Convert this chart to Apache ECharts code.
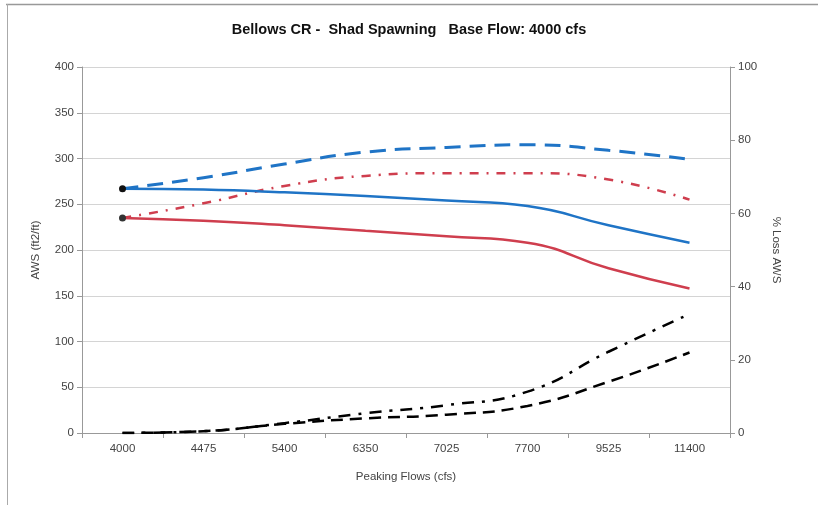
<!DOCTYPE html>
<html><head><meta charset="utf-8">
<script src="https://cdn.jsdelivr.net/npm/echarts@6/dist/echarts.min.js"></script>
<style>html,body{margin:0;padding:0;background:#fff}#c{width:818px;height:505px}</style>
</head><body><div id="c"></div>
<script>
const categories = ['4000','4475','5400','6350','7025','7700','9525','11400'];
const awsBlue = [267, 266, 263, 259, 254, 248, 227, 208];
const awsRed = [235, 232, 227, 221, 215, 208, 180, 158];
const awsBlueDash = [267, 279, 294, 307, 312, 315, 309, 299];
const awsRedDashDot = [235, 251, 270, 281, 284, 284, 277, 255];
const lossDashDot = [0, 0.5, 2.7, 5.4, 7.6, 11.3, 22.2, 32.5];
const lossDash = [0, 0.5, 2.5, 4.0, 5.0, 7.4, 14, 22];

const chart = echarts.init(document.getElementById('c'));
const lbl = {color:'#444', fontSize:11.5, fontFamily:'Liberation Sans, Arial, sans-serif'};
const firstMarker = (arr, color) => arr.map((v,i)=> i===0 ? {value:v, symbol:'circle', symbolSize:7, itemStyle:{color:color}} : {value:v, symbol:'none'});
chart.setOption({
  animation:false,
  backgroundColor:'#fff',
  graphic:[
    {type:'line', shape:{x1:6,y1:4.5,x2:818,y2:4.5}, style:{stroke:'#999', lineWidth:1.5}},
    {type:'line', shape:{x1:7.5,y1:4,x2:7.5,y2:505}, style:{stroke:'#aaa', lineWidth:1}}
  ],
  title:{text:'Bellows CR -  Shad Spawning   Base Flow: 4000 cfs', left:'center', top:17,
    textStyle:{fontSize:14.5, fontWeight:'bold', color:'#111', fontFamily:'Liberation Sans, Arial, sans-serif'}},
  grid:{left:82, right:88, top:67, bottom:72},
  xAxis:{type:'category', data:categories, boundaryGap:true,
    name:'Peaking Flows (cfs)', nameLocation:'middle', nameGap:38, nameTextStyle:{...lbl},
    axisLine:{lineStyle:{color:'#999'}}, axisTick:{show:true, alignWithLabel:false, lineStyle:{color:'#999'}},
    axisLabel:{...lbl, margin:10}},
  yAxis:[
    {type:'value', min:0, max:400, interval:50, name:'AWS (ft2/ft)', nameLocation:'middle', nameGap:40,
      nameTextStyle:{...lbl}, axisLine:{show:true, lineStyle:{color:'#999'}}, axisTick:{show:true, lineStyle:{color:'#999'}},
      axisLabel:{...lbl, margin:8}, splitLine:{lineStyle:{color:'#d4d4d4'}}},
    {type:'value', min:0, max:100, interval:20, name:'% Loss AWS', nameLocation:'middle', nameGap:40, nameRotate:-90,
      nameTextStyle:{...lbl}, axisLine:{show:true, lineStyle:{color:'#999'}}, axisTick:{show:true, lineStyle:{color:'#999'}},
      axisLabel:{...lbl, margin:8}, splitLine:{show:false}}
  ],
  series:[
    {type:'line', name:'Blue dash', data:awsBlueDash, yAxisIndex:0, smooth:0.5, symbol:'none',
      lineStyle:{color:'#1f74c6', width:3, type:[16,9]}},
    {type:'line', name:'Red dashdot', data:awsRedDashDot, yAxisIndex:0, smooth:0.5, symbol:'none',
      lineStyle:{color:'#cf3e4e', width:2.5, type:[9,8,2,8]}},
    {type:'line', name:'Blue', data:firstMarker(awsBlue,'#111'), yAxisIndex:0, smooth:0.5,
      lineStyle:{color:'#1f74c6', width:2.5}},
    {type:'line', name:'Red', data:firstMarker(awsRed,'#333'), yAxisIndex:0, smooth:0.5,
      lineStyle:{color:'#cf3e4e', width:2.5}},
    {type:'line', name:'Loss dashdot', data:lossDashDot, yAxisIndex:1, smooth:0.5, symbol:'none',
      lineStyle:{color:'#000', width:2.5, type:[12,8,3,8]}},
    {type:'line', name:'Loss dash', data:lossDash, yAxisIndex:1, smooth:0.5, symbol:'none',
      lineStyle:{color:'#000', width:2.5, type:[12,7]}}
  ]
});
</script></body></html>
